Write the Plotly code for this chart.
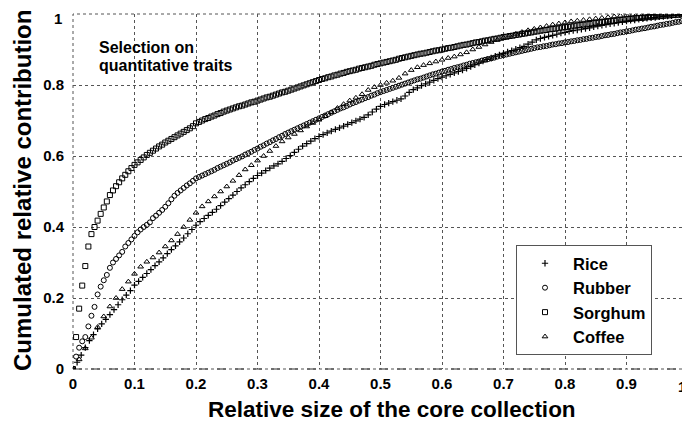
import numpy as np
import plotly.graph_objects as go

# Cumulated relative contribution (uniform x grid 0..1)
rice = [
    0.000, 0.019, 0.039, 0.060, 0.080, 0.097, 0.113, 0.127, 0.140, 0.153,
    0.167, 0.181, 0.195, 0.208, 0.221, 0.236, 0.247, 0.258, 0.269, 0.280,
    0.291, 0.302, 0.313, 0.325, 0.336, 0.347, 0.358, 0.369, 0.381, 0.393,
    0.405, 0.415, 0.424, 0.433, 0.441, 0.450, 0.460, 0.470, 0.480, 0.490,
    0.500, 0.510, 0.519, 0.528, 0.537, 0.545, 0.552, 0.559, 0.566, 0.572,
    0.578, 0.585, 0.593, 0.601, 0.610, 0.619, 0.628, 0.635, 0.642, 0.649,
    0.655, 0.660, 0.665, 0.670, 0.675, 0.679, 0.684, 0.689, 0.694, 0.699,
    0.704, 0.709, 0.716, 0.724, 0.732, 0.740, 0.745, 0.749, 0.753, 0.757,
    0.761, 0.769, 0.779, 0.787, 0.792, 0.798, 0.803, 0.808, 0.813, 0.818,
    0.822, 0.826, 0.830, 0.834, 0.838, 0.842, 0.847, 0.852, 0.857, 0.862,
    0.867, 0.872, 0.876, 0.881, 0.885, 0.889, 0.893, 0.897, 0.901, 0.905,
    0.909, 0.915, 0.921, 0.927, 0.931, 0.934, 0.937, 0.940, 0.943, 0.946,
    0.948, 0.951, 0.953, 0.955, 0.957, 0.959, 0.961, 0.964, 0.966, 0.968,
    0.970, 0.972, 0.974, 0.976, 0.978, 0.980, 0.982, 0.983, 0.985, 0.986,
    0.988, 0.989, 0.990, 0.992, 0.993, 0.994, 0.995, 0.997, 0.998, 0.999,
    1.000,
]

rubber = [
    0.000, 0.035, 0.060, 0.078, 0.090, 0.120, 0.150, 0.175, 0.210, 0.232,
    0.250, 0.265, 0.285, 0.300, 0.310, 0.320, 0.330, 0.345, 0.355, 0.365,
    0.375, 0.385, 0.393, 0.400, 0.406, 0.413, 0.425, 0.432, 0.440, 0.448,
    0.457, 0.467, 0.478, 0.488, 0.496, 0.503, 0.510, 0.517, 0.523, 0.530,
    0.537, 0.541, 0.545, 0.549, 0.553, 0.557, 0.561, 0.566, 0.570, 0.574,
    0.578, 0.582, 0.587, 0.591, 0.595, 0.599, 0.604, 0.608, 0.612, 0.617,
    0.621, 0.626, 0.630, 0.635, 0.639, 0.644, 0.648, 0.653, 0.657, 0.662,
    0.666, 0.670, 0.674, 0.678, 0.682, 0.686, 0.690, 0.694, 0.698, 0.702,
    0.706, 0.710, 0.714, 0.718, 0.722, 0.726, 0.730, 0.734, 0.737, 0.741,
    0.745, 0.749, 0.752, 0.756, 0.759, 0.763, 0.766, 0.770, 0.773, 0.777,
    0.780, 0.783, 0.786, 0.789, 0.792, 0.795, 0.798, 0.801, 0.804, 0.807,
    0.810, 0.813, 0.816, 0.818, 0.821, 0.824, 0.827, 0.830, 0.832, 0.835,
    0.838, 0.840, 0.843, 0.845, 0.848, 0.850, 0.852, 0.855, 0.857, 0.860,
    0.862, 0.864, 0.866, 0.869, 0.871, 0.873, 0.875, 0.877, 0.880, 0.882,
    0.884, 0.886, 0.888, 0.890, 0.892, 0.894, 0.896, 0.898, 0.900, 0.902,
    0.904, 0.906, 0.907, 0.909, 0.910, 0.912, 0.914, 0.915, 0.917, 0.918,
    0.920, 0.921, 0.923, 0.924, 0.926, 0.927, 0.929, 0.930, 0.932, 0.933,
    0.935, 0.936, 0.938, 0.940, 0.941, 0.943, 0.944, 0.946, 0.948, 0.949,
    0.951, 0.952, 0.954, 0.956, 0.957, 0.959, 0.960, 0.962, 0.964, 0.965,
    0.967, 0.969, 0.970, 0.972, 0.973, 0.975, 0.977, 0.978, 0.980, 0.981,
    0.983,
]

sorghum = [
    0.000, 0.090, 0.170, 0.235, 0.290, 0.345, 0.380, 0.400, 0.418, 0.437,
    0.455, 0.472, 0.490, 0.503, 0.515, 0.526, 0.537, 0.547, 0.557, 0.566,
    0.575, 0.582, 0.589, 0.596, 0.603, 0.609, 0.615, 0.621, 0.627, 0.632,
    0.638, 0.643, 0.648, 0.653, 0.658, 0.663, 0.668, 0.673, 0.678, 0.684,
    0.692, 0.696, 0.700, 0.704, 0.707, 0.711, 0.714, 0.718, 0.721, 0.725,
    0.728, 0.731, 0.734, 0.737, 0.740, 0.742, 0.745, 0.748, 0.751, 0.753,
    0.756, 0.759, 0.762, 0.765, 0.767, 0.770, 0.773, 0.776, 0.779, 0.781,
    0.784, 0.787, 0.790, 0.793, 0.796, 0.799, 0.802, 0.805, 0.808, 0.811,
    0.814, 0.817, 0.819, 0.822, 0.824, 0.827, 0.829, 0.832, 0.834, 0.837,
    0.839, 0.841, 0.843, 0.846, 0.848, 0.850, 0.852, 0.854, 0.857, 0.859,
    0.861, 0.863, 0.865, 0.867, 0.869, 0.871, 0.874, 0.876, 0.878, 0.880,
    0.882, 0.884, 0.886, 0.888, 0.889, 0.891, 0.893, 0.895, 0.897, 0.898,
    0.900, 0.902, 0.904, 0.905, 0.907, 0.909, 0.911, 0.913, 0.914, 0.916,
    0.918, 0.920, 0.921, 0.923, 0.925, 0.926, 0.928, 0.930, 0.931, 0.933,
    0.935, 0.936, 0.938, 0.939, 0.941, 0.942, 0.944, 0.945, 0.947, 0.948,
    0.950, 0.951, 0.953, 0.954, 0.955, 0.957, 0.958, 0.959, 0.960, 0.962,
    0.963, 0.964, 0.965, 0.967, 0.968, 0.969, 0.970, 0.971, 0.972, 0.974,
    0.975, 0.976, 0.977, 0.978, 0.979, 0.980, 0.981, 0.982, 0.983, 0.984,
    0.985, 0.986, 0.987, 0.988, 0.989, 0.989, 0.990, 0.991, 0.992, 0.993,
    0.993, 0.994, 0.995, 0.996, 0.996, 0.997, 0.998, 0.998, 0.999, 1.000,
    1.000,
]

coffee = [
    0.000, 0.027, 0.058, 0.088, 0.118, 0.148, 0.176, 0.200, 0.225, 0.246,
    0.268, 0.288, 0.302, 0.314, 0.328, 0.345, 0.362, 0.380, 0.400, 0.420,
    0.440, 0.458, 0.472, 0.486, 0.500, 0.514, 0.530, 0.546, 0.562, 0.574,
    0.587, 0.600, 0.614, 0.628, 0.641, 0.652, 0.662, 0.672, 0.683, 0.693,
    0.702, 0.712, 0.723, 0.735, 0.746, 0.756, 0.764, 0.774, 0.786, 0.794,
    0.800, 0.806, 0.812, 0.820, 0.832, 0.842, 0.850, 0.856, 0.861, 0.866,
    0.871, 0.876, 0.880, 0.886, 0.892, 0.900, 0.907, 0.914, 0.921, 0.927,
    0.933, 0.939, 0.944, 0.949, 0.954, 0.958, 0.962, 0.966, 0.970, 0.973,
    0.976, 0.979, 0.981, 0.983, 0.985, 0.987, 0.989, 0.991, 0.993, 0.995,
    0.997, 0.998, 0.999, 1.000, 1.000, 1.000, 1.000, 1.000, 1.000, 1.000,
    1.000,
]

series = [
    ("Rice", rice, "cross-thin-open", 4.5, 1.2),
    ("Rubber", rubber, "circle-open", 5, 1.0),
    ("Sorghum", sorghum, "square-open", 5, 1.0),
    ("Coffee", coffee, "triangle-up-open", 5, 1.0),
]

x_ticks = [0, 0.1, 0.2, 0.3, 0.4, 0.5, 0.6, 0.7, 0.8, 0.9, 1]
x_tick_labels = ["0", "0.1", "0.2", "0.3", "0.4", "0.5", "0.6", "0.7", "0.8", "0.9", "1"]
y_ticks = [0, 0.2, 0.4, 0.6, 0.8, 1]
y_tick_labels = ["0", "0.2", "0.4", "0.6", "0.8", "1"]

FONT = "Liberation Sans, Arial, Helvetica, sans-serif"
GRID = "#555555"
TICKFONT = dict(family=FONT, size=15, color="black", weight="bold")

fig = go.Figure()
for name, ys, sym, size, lw in series:
    xs = np.linspace(0, 1, len(ys))
    fig.add_trace(go.Scatter(
        x=xs, y=ys, mode="markers", name=name, legendgroup=name,
        marker=dict(symbol=sym, size=size, color="black",
                    line=dict(color="black", width=lw)),
    ))

grid = dict(showgrid=True, gridcolor=GRID, gridwidth=1, griddash="dot",
            zeroline=False, showline=False, ticks="", tickfont=TICKFONT,
            automargin=False)

# the labels at the far ends of the axes sit on the page edges; they are drawn
# as annotations anchored inwards so they stay inside the picture
fig.update_xaxes(range=[0, 1], tickvals=x_ticks[:-1], ticktext=x_tick_labels[:-1],
                 ticklabelstandoff=4, **grid)
fig.update_yaxes(range=[0, 1], tickvals=y_ticks[:-1], ticktext=y_tick_labels[:-1],
                 ticklabelstandoff=8, **grid)

# frame of the plotting area (dotted like the grid, bottom dashed)
fig.add_shape(type="rect", xref="paper", yref="paper", x0=0, y0=0, x1=1, y1=1,
              line=dict(color=GRID, width=1, dash="dot"), layer="below")
fig.add_shape(type="line", xref="paper", yref="paper", x0=0, y0=0, x1=1, y1=0,
              line=dict(color="#333333", width=1, dash="dash"), layer="below")

fig.update_layout(
    width=690, height=430,
    margin=dict(l=65, r=10, t=6, b=69),
    paper_bgcolor="white", plot_bgcolor="white",
    font=dict(family=FONT, color="black"),
    showlegend=True,
    legend=dict(
        x=(516 - 73) / 615, y=(369 - 245) / 355, xanchor="left", yanchor="top",
        bgcolor="white", bordercolor=GRID, borderwidth=1,
        font=dict(family=FONT, size=16.5, color="black", weight="bold"),
        itemwidth=46, tracegroupgap=0,
    ),
    annotations=[
        dict(text=x_tick_labels[-1], xref="x", yref="paper", x=x_ticks[-1], y=0,
             xanchor="right", yanchor="top", yshift=-7, showarrow=False, font=TICKFONT),
        dict(text=y_tick_labels[-1], xref="paper", yref="y", x=0, y=y_ticks[-1],
             xanchor="right", yanchor="top", xshift=-9, yshift=6, showarrow=False,
             font=TICKFONT),
        dict(text="Relative size of the core collection", xref="paper", yref="paper",
             x=(392 - 73) / 615, y=0, yshift=-40, xanchor="center", yanchor="middle",
             showarrow=False, font=dict(family=FONT, size=22.5, color="black", weight="bold")),
        dict(text="Cumulated relative contribution", xref="paper", yref="paper",
             x=0, xshift=-51, y=(369 - 191) / 355, xanchor="center", yanchor="middle",
             textangle=-90, showarrow=False,
             font=dict(family=FONT, size=24, color="black", weight="bold")),
        dict(text="Selection on", xref="paper", yref="paper",
             x=(97 - 73) / 615, y=(369 - 48) / 355, xanchor="left", yanchor="middle",
             showarrow=False, font=dict(family=FONT, size=16, color="black", weight="bold")),
        dict(text="quantitative traits", xref="paper", yref="paper",
             x=(97 - 73) / 615, y=(369 - 65) / 355, xanchor="left", yanchor="middle",
             showarrow=False, font=dict(family=FONT, size=16, color="black", weight="bold")),
    ],
)

fig.write_html("out.html")
